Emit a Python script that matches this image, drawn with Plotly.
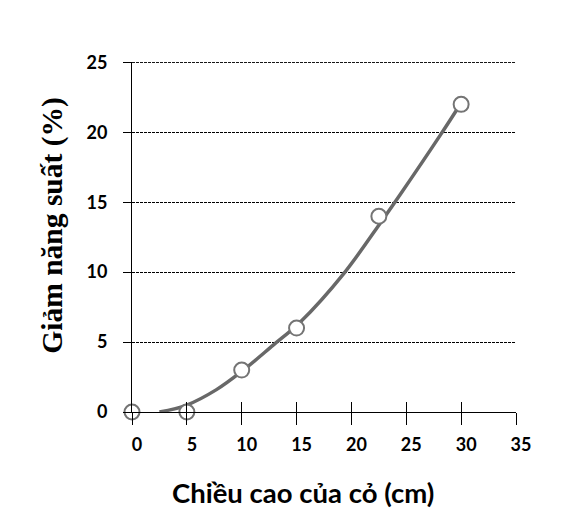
import plotly.graph_objects as go

# observed points
height_cm = [0, 5, 10, 15, 22.5, 30]
yield_loss = [0, 0, 3, 6, 14, 22]

# fitted curve
curve_x = [2.5, 5, 7.7, 10, 12.9, 15.3, 19.3, 22.8, 24.4, 28.1, 30]
curve_y = [0, 0.5, 1.6, 2.9, 4.8, 6.4, 9.9, 13.7, 15.5, 19.8, 22.1]

x_ticks = [0, 5, 10, 15, 20, 25, 30, 35]
y_ticks = [0, 5, 10, 15, 20, 25]

fig = go.Figure()

fig.add_trace(
    go.Scatter(
        x=curve_x,
        y=curve_y,
        mode='lines',
        line=dict(color='#686868', width=3.5, shape='spline', smoothing=1),
        showlegend=False,
    )
)

fig.add_trace(
    go.Scatter(
        x=height_cm,
        y=yield_loss,
        mode='markers',
        marker=dict(symbol='circle', size=15, color='white',
                    line=dict(color='#747474', width=2)),
        cliponaxis=False,
        showlegend=False,
    )
)

# dummy trace so the inner x ticks get drawn
fig.add_trace(go.Scatter(x=[None], y=[None], xaxis='x2', showlegend=False))

tick_font = dict(family='Lato', size=18, color='black', weight='bold')

# top gridline sits on the edge of the plot, draw it explicitly
fig.add_shape(type='line', xref='x', yref='y',
              x0=x_ticks[0], x1=x_ticks[-1], y0=y_ticks[-1], y1=y_ticks[-1],
              line=dict(color='black', width=1, dash='3px,1px'), layer='below')

fig.update_layout(
    width=555,
    height=517,
    margin=dict(l=124, r=47, t=54, b=113),
    plot_bgcolor='white',
    paper_bgcolor='white',
    xaxis=dict(
        range=[0, 35],
        tickvals=x_ticks,
        ticks='outside',
        ticklen=12,
        tickcolor='black',
        tickwidth=1,
        showline=True,
        linecolor='black',
        linewidth=1,
        showgrid=False,
        zeroline=False,
        tickfont=tick_font,
        ticklabelshift=5,
        ticklabelstandoff=4,
        automargin=False,
    ),
    xaxis2=dict(
        range=[0, 35],
        overlaying='x',
        side='bottom',
        tickvals=x_ticks,
        ticks='inside',
        ticklen=10,
        tickcolor='black',
        showticklabels=False,
        showgrid=False,
        zeroline=False,
    ),
    yaxis=dict(
        range=[0, 25.03],
        tickvals=y_ticks,
        ticks='outside',
        ticklen=8,
        tickcolor='black',
        showline=True,
        linecolor='black',
        linewidth=1,
        showgrid=True,
        gridcolor='black',
        gridwidth=1,
        griddash='3px,1px',
        zeroline=False,
        tickfont=tick_font,
        ticklabelstandoff=12,
        automargin=False,
    ),
    annotations=[
        dict(text='Chiều cao của cỏ (cm)', xref='paper', yref='paper',
             x=0.445, y=-0.231, xanchor='center', yanchor='middle', showarrow=False,
             font=dict(family='Lato', size=27.5, color='black', weight='bold')),
        dict(text='Giảm năng suất (%)', xref='paper', yref='paper',
             x=-0.206, y=0.535, xanchor='center', yanchor='middle', showarrow=False,
             textangle=-90,
             font=dict(family='Liberation Serif', size=29.5, color='black', weight='bold')),
    ],
)

fig.write_html("out.html")
